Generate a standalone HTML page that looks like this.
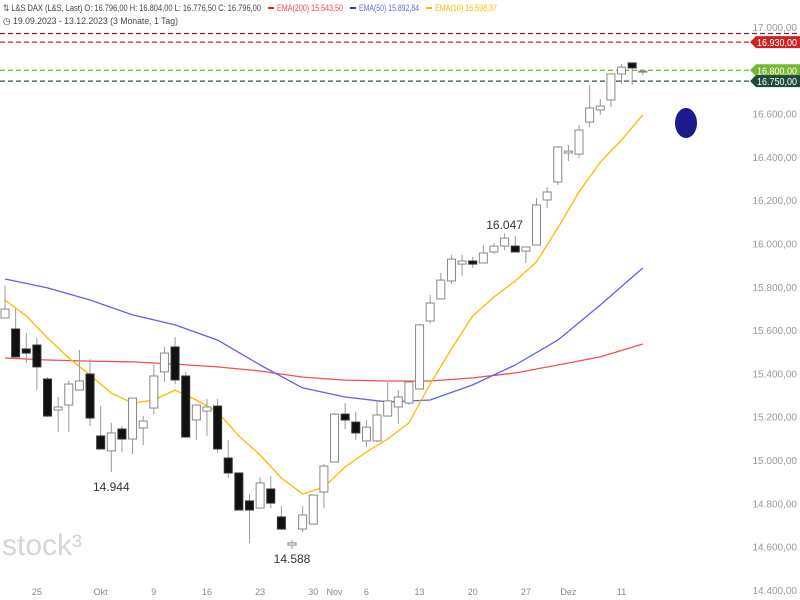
<!DOCTYPE html>
<html><head><meta charset="utf-8"><style>
body{margin:0;background:#fff;width:800px;height:600px;overflow:hidden;font-family:"Liberation Sans",sans-serif}
svg{display:block}
</style></head><body>
<svg id="chart" width="800" height="600" xmlns="http://www.w3.org/2000/svg">
<g id="hdr" font-size="9" fill="#444">
<text x="3" y="11" textLength="258" lengthAdjust="spacingAndGlyphs">⇅ L&amp;S DAX (L&amp;S, Last)  O: 16.796,00  H: 16.804,00  L: 16.776,50  C: 16.796,00</text>
<rect x="268" y="7" width="6" height="2" fill="#e22"/><text x="277" y="11" fill="#f44" textLength="66" lengthAdjust="spacingAndGlyphs">EMA(200)  15.543,50</text>
<rect x="350" y="7" width="6" height="2" fill="#33c"/><text x="359" y="11" fill="#66f" textLength="60" lengthAdjust="spacingAndGlyphs">EMA(50)  15.892,84</text>
<rect x="426" y="7" width="6" height="2" fill="#fb0"/><text x="435" y="11" fill="#fb0" textLength="62" lengthAdjust="spacingAndGlyphs">EMA(10)  16.598,37</text>
<text x="3" y="24" textLength="175" lengthAdjust="spacingAndGlyphs">◷ 19.09.2023 - 13.12.2023   (3 Monate, 1 Tag)</text>
</g>
<text x="2" y="555" font-size="30" fill="#d6d6d6">stock³</text>
<g id="grid"></g><g id="ema"></g><g id="candles"></g><g id="ann"></g>
<ellipse cx="686" cy="123" rx="11" ry="15" fill="#1c1a8c"/>
</svg>
<script>
const opens=[15656,15605,15513,15531,15374,15231,15254,15323,15397,15111,15042,15143,15097,15148,15240,15407,15522,15388,15185,15226,15249,15009,14940,14811,14778,14866,14737,14607,14681,14704,14852,14991,15212,15175,15088,15088,15203,15245,15263,15328,15642,15744,15827,15905,15919,15910,15961,15988,15988,15965,15993,16201,16284,16418,16413,16561,16617,16663,16783,16834,16796];
const highs=[15808,15697,15587,15564,15383,15291,15365,15508,15466,15249,15171,15157,15286,15203,15439,15522,15568,15407,15254,15282,15282,15092,14940,14843,14921,14926,14788,14630,14788,14838,14982,15217,15263,15222,15185,15277,15360,15323,15360,15629,15762,15864,15947,15947,15938,15993,16002,16047,16035,15984,16210,16261,16450,16455,16547,16732,16667,16783,16829,16834,16804];
const lows=[15656,15476,15448,15323,15199,15129,15129,15323,15157,15051,14944,15037,15028,15069,15212,15360,15351,15106,15092,15111,15032,14917,14769,14617,14778,14778,14677,14589,14667,14704,14778,14991,15143,15092,15060,15083,15203,15166,15254,15328,15629,15744,15813,15850,15887,15910,15951,15970,15961,15910,15993,16164,16270,16381,16395,16538,16594,16631,16737,16732,16776];
const closes=[15697,15476,15494,15430,15203,15245,15351,15365,15194,15051,15125,15097,15286,15180,15388,15494,15370,15106,15254,15245,15051,14940,14769,14769,14894,14801,14681,14617,14746,14838,14972,15212,15185,15125,15152,15208,15273,15291,15360,15624,15725,15831,15928,15919,15905,15956,15988,16025,15961,15984,16178,16238,16446,16427,16524,16626,16635,16783,16815,16811,16796];
const emaIdx=[0,4,8,12,16,20,24,28,32,36,40,44,48,52,56,60];
const ema200=[15471,15462,15457,15453,15443,15430,15411,15383,15369,15365,15365,15379,15402,15439,15476,15536];
const ema50=[15836,15795,15739,15670,15624,15554,15439,15333,15291,15268,15277,15347,15439,15554,15716,15887];
const ema10Idx=[0,2,4,6,8,10,12,14,16,18,20,22,24,26,28,30,32,34,36,38,40,42,44,46,48,50,52,54,56,58,60];
const ema10=[15739,15665,15564,15471,15393,15309,15263,15277,15323,15277,15222,15111,15023,14917,14843,14875,14968,15037,15097,15171,15351,15513,15665,15753,15827,15915,16072,16238,16376,16478,16594];
const yTicks=[17000,16800,16600,16400,16200,16000,15800,15600,15400,15200,15000,14800,14600,14400];
const xLabels=["25","Okt","9","16","23","30","Nov","6","13","20","27","Dez","11"];
const xLabelIdx=[3,9,14,19,24,29,31,34,39,44,49,53,58];
const levels=[16970,16930,16800,16750];
const NS="http://www.w3.org/2000/svg";
const y=v=>27+(17000-v)*0.2165;
const x=i=>5+i*10.63;
const fmt=v=>v.toFixed(2).replace('.',',').replace(/\B(?=(\d{3})+(?!\d))/g,'.');
function mk(tag,attrs,parent){const e=document.createElementNS(NS,tag);for(const k in attrs)e.setAttribute(k,attrs[k]);document.getElementById(parent).appendChild(e);return e;}
yTicks.forEach((v,i)=>{if(v===16800)return;const t=mk('text',{x:797,y:y(v)+4,'font-size':10,fill:'#999','text-anchor':'end'},'grid');t.textContent=fmt(v);

});
xLabels.forEach((s,i)=>{const t=mk('text',{x:x(xLabelIdx[i]),y:595,'font-size':9,fill:'#888','text-anchor':'middle'},'grid');t.textContent=s;

});
const lvlCol=['#8b1a3a','#d42020','#5cb800','#2f4f4f'];
const lvlTag=[null,'#cc2222','#7ab530','#1e4a40'];
levels.forEach((v,i)=>{const l=mk('line',{x1:0,x2:800,y1:y(v),y2:y(v),stroke:lvlCol[i],'stroke-width':1.2,'stroke-dasharray':'5,3'},'grid');


if(lvlTag[i]){const p=mk('path',{d:`M750 ${y(v)} L756 ${y(v)-6} L800 ${y(v)-6} L800 ${y(v)+6} L756 ${y(v)+6} Z`,fill:lvlTag[i]},'grid');


const t=mk('text',{x:797,y:y(v)+4,'font-size':10,fill:'#fff','text-anchor':'end',textLength:40,lengthAdjust:'spacingAndGlyphs'},'grid');t.textContent=fmt(v);

}});
[[ema200,emaIdx,'#f05050','ema200-line'],[ema50,emaIdx,'#6060f0','ema50-line'],[ema10,ema10Idx,'#ffb800','ema10-line']].forEach(([arr,idx,c,n])=>{
const pts=arr.map((v,k)=>x(idx[k]).toFixed(1)+','+y(v).toFixed(1)).join(' ');
const pl=mk('polyline',{points:pts,fill:'none',stroke:c,'stroke-width':1.3,'stroke-linejoin':'round'},'ema');

});
opens.forEach((o,i)=>{const c=closes[i],cx=x(i);const up=c>=o;
const w=mk('line',{x1:cx,x2:cx,y1:y(highs[i]),y2:y(lows[i]),stroke:'#999','stroke-width':1},'candles');


const top=y(Math.max(o,c)),h=Math.max(1,Math.abs(y(o)-y(c)));
const r=mk('rect',{x:cx-4,y:top,width:8,height:h,fill:up?'#fff':'#111',stroke:up?'#888':'#333','stroke-width':1},'candles');

});
[[10,'14.944',491],[27,'14.588',563],[47,'16.047',229]].forEach(([i,s,yy])=>{const t=mk('text',{x:x(i),y:yy,'font-size':12,fill:'#333','text-anchor':'middle'},'ann');t.textContent=s;

});
</script>
</body></html>
